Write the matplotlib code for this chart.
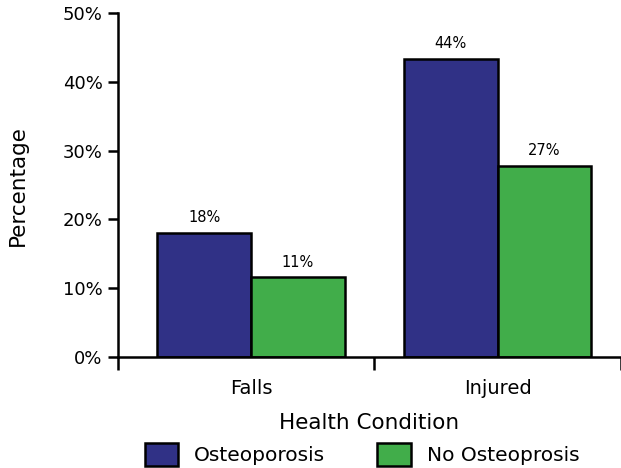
import numpy as np
import matplotlib.pyplot as plt

# data
categories = ["Falls", "Injured"]
osteo = [18.1, 43.4]
no_osteo = [11.6, 27.8]
osteo_labels = ["18%", "44%"]
no_osteo_labels = ["11%", "27%"]
series_names = ["Osteoporosis", "No Osteoprosis"]

plt.rcParams['font.family'] = ['DejaVu Sans']

fig = plt.figure(figsize=(6.21, 4.68), dpi=100)
ax = fig.add_axes([0.19, 0.237, 0.81, 0.735])

x = np.arange(len(categories))
w = 0.38
b1 = ax.bar(x - w / 2, osteo, w, color="#303186", edgecolor="black",
            linewidth=1.8, label=series_names[0])
b2 = ax.bar(x + w / 2, no_osteo, w, color="#41ad4a", edgecolor="black",
            linewidth=1.8, label=series_names[1])

for bars, labels in [(b1, osteo_labels), (b2, no_osteo_labels)]:
    for bar, lab in zip(bars, labels):
        ax.text(bar.get_x() + bar.get_width() / 2, bar.get_height() + 1.1, lab,
                ha="center", va="bottom", fontsize=10.5)

ax.set_ylim(0, 50)
ax.set_xlim(-0.54, 1.5)
ax.set_yticks(range(0, 51, 10))
ax.set_yticklabels([f"{v}%" for v in range(0, 51, 10)], fontsize=13)
ax.set_ylabel("Percentage", fontsize=15.5)
ax.yaxis.set_label_coords(-0.179, 0.5)

# boundary ticks below axis, category labels as minor ticks
ax.set_xticks([-0.54, 0.5, 1.5])
ax.set_xticklabels([])
ax.set_xticks(x, minor=True)
ax.set_xticklabels(categories, minor=True, fontsize=14)
ax.tick_params(axis="x", which="major", length=9, width=1.8, direction="out")
ax.tick_params(axis="x", which="minor", length=0, pad=16)
ax.tick_params(axis="y", length=7, width=1.8, direction="out", pad=4)
ax.set_xlabel("Health Condition", fontsize=15.5)
ax.xaxis.set_label_coords(0.5, -0.192)
ax.xaxis.label.set_va("center")

for s in ["top", "right"]:
    ax.spines[s].set_visible(False)
ax.spines["left"].set_linewidth(1.8)
ax.spines["bottom"].set_linewidth(1.8)

fig.legend(handles=[b1, b2], labels=series_names, loc="lower center",
           bbox_to_anchor=(0.583, -0.018), ncol=2, frameon=False, fontsize=14.5,
           handlelength=1.65, handleheight=1.4, columnspacing=2.6,
           handletextpad=0.8, borderpad=0)

fig.savefig("out.png", dpi=100)
